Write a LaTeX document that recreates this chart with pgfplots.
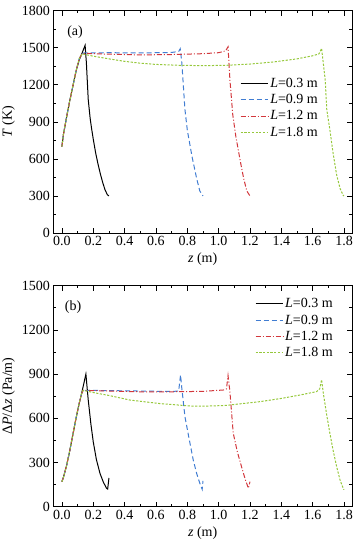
\documentclass[border=0pt]{standalone}
\usepackage{fontspec}
\setmainfont{Liberation Serif}
\usepackage{pgfplots}
\pgfplotsset{compat=1.18}
\definecolor{cblue}{RGB}{65,125,210}
\definecolor{cred}{RGB}{210,55,60}
\definecolor{cgreen}{RGB}{150,200,60}
\pgfplotsset{
  every axis/.append style={font=\fontsize{14}{17}\selectfont},
  myaxis/.style={
    scale only axis, width=298.7pt,
    xmin=-0.055, xmax=1.851,
    xtick={0,0.2,...,1.8}, minor x tick num=1, minor y tick num=1,
    tick align=inside, major tick length=5pt, minor tick length=2.5pt,
    axis line style={line width=0.9pt}, every tick/.style={line width=0.7pt, black},
    xticklabel style={/pgf/number format/.cd, fixed, fixed zerofill, precision=1, assume math mode=true},
    yticklabel style={/pgf/number format/.cd, 1000 sep={}, assume math mode=true},
    xlabel={\textit{z} (m)},
    legend cell align=left,
    legend style={draw=none, fill=none, font=\fontsize{14}{17}\selectfont, row sep=4.5pt, inner sep=0pt,
      nodes={inner xsep=2pt, inner ysep=0.5pt}},
    legend image code/.code={\draw[##1] (0cm,0cm) -- (0.95cm,0cm);},
  },
  s1/.style={black, line width=1pt},
  s2/.style={cblue, line width=1pt, dash pattern=on 5pt off 3pt},
  s3/.style={cred, line width=1pt, dash pattern=on 5pt off 2pt on 1pt off 2pt},
  s4/.style={cgreen, line width=1pt, dash pattern=on 2.2pt off 1.5pt},
}
\begin{document}
\begin{tikzpicture}
\begin{axis}[myaxis, height=222.3pt, ymin=0, ymax=1800, ytick={0,300,...,1800},
  ylabel={\textit{T} (K)},
  legend style={at={(rel axis cs:0.893,0.70)}, anchor=north east}]
\addplot[s1] coordinates {(0,700) (0.01,800) (0.03,940) (0.05,1070) (0.07,1190) (0.09,1310) (0.11,1400) (0.125,1445) (0.148,1520) (0.156,1380) (0.168,1080) (0.18,930) (0.19,840) (0.2,760) (0.215,650) (0.23,560) (0.245,480) (0.26,410) (0.275,350) (0.29,310) (0.3,300)};
\addplot[s2] coordinates {(0,700) (0.01,800) (0.03,940) (0.05,1070) (0.07,1190) (0.09,1310) (0.11,1410) (0.125,1445) (0.14,1458) (0.3,1460) (0.5,1458) (0.7,1462) (0.745,1470) (0.755,1492) (0.765,1380) (0.785,1000) (0.8,834) (0.83,620) (0.86,440) (0.88,340) (0.9,300)};
\addplot[s3] coordinates {(0,700) (0.01,800) (0.03,940) (0.05,1070) (0.07,1190) (0.09,1310) (0.11,1410) (0.125,1445) (0.14,1455) (0.3,1448) (0.5,1442) (0.7,1445) (0.9,1452) (1.0,1460) (1.045,1475) (1.06,1508) (1.072,1240) (1.09,960) (1.11,780) (1.14,570) (1.16,440) (1.18,340) (1.2,300)};
\addplot[s4] coordinates {(0,700) (0.01,800) (0.03,940) (0.05,1070) (0.07,1190) (0.09,1310) (0.11,1410) (0.13,1450) (0.2,1432) (0.3,1410) (0.4,1390) (0.5,1375) (0.6,1365) (0.75,1358) (0.9,1355) (1.05,1358) (1.2,1368) (1.35,1385) (1.5,1410) (1.6,1435) (1.64,1450) (1.657,1495) (1.68,1240) (1.69,1000) (1.71,834) (1.73,650) (1.753,470) (1.775,360) (1.795,305) (1.8,300)};
\legend{\textit{L}=0.3 m, \textit{L}=0.9 m, \textit{L}=1.2 m, \textit{L}=1.8 m}
\node at (rel axis cs:0.073,0.904) {(a)};
\end{axis}
\begin{axis}[myaxis, at={(0,-273.7pt)}, height=221pt, ymin=0, ymax=1500, ytick={0,300,...,1500},
  ylabel={Δ\textit{P}/Δ\textit{z} (Pa/m)},
  legend style={at={(rel axis cs:0.943,0.945)}, anchor=north east}]
\addplot[s1] coordinates {(0,170) (0.01,200) (0.03,280) (0.05,380) (0.07,490) (0.09,600) (0.11,700) (0.125,765) (0.153,900) (0.168,724) (0.185,560) (0.2,440) (0.22,320) (0.243,226) (0.265,165) (0.285,125) (0.292,120) (0.3,195)};
\addplot[s2] coordinates {(0,170) (0.01,200) (0.03,280) (0.05,380) (0.07,490) (0.09,600) (0.11,700) (0.125,765) (0.135,790) (0.3,788) (0.5,785) (0.7,782) (0.745,785) (0.757,894) (0.764,815) (0.785,611) (0.81,470) (0.838,317) (0.86,225) (0.88,159) (0.895,118) (0.9,175)};
\addplot[s3] coordinates {(0,170) (0.01,200) (0.03,280) (0.05,380) (0.07,490) (0.09,600) (0.11,700) (0.125,765) (0.135,790) (0.3,785) (0.5,780) (0.7,780) (0.9,783) (1.03,792) (1.05,800) (1.06,890) (1.072,780) (1.093,500) (1.12,370) (1.146,272) (1.17,185) (1.19,125) (1.2,170)};
\addplot[s4] coordinates {(0,170) (0.01,200) (0.03,280) (0.05,380) (0.07,490) (0.09,600) (0.11,700) (0.125,765) (0.135,790) (0.2,775) (0.3,755) (0.434,724) (0.625,700) (0.838,682) (0.97,684) (1.05,688) (1.264,713) (1.4,735) (1.519,758) (1.625,781) (1.645,800) (1.657,862) (1.668,770) (1.69,620) (1.71,498) (1.73,385) (1.753,272) (1.775,180) (1.795,125) (1.8,115)};
\legend{\textit{L}=0.3 m, \textit{L}=0.9 m, \textit{L}=1.2 m, \textit{L}=1.8 m}
\node at (rel axis cs:0.066,0.904) {(b)};
\end{axis}
\pgfresetboundingbox
\path (-53.3pt,-317pt) rectangle (307.7pt,233pt);
\end{tikzpicture}
\end{document}
